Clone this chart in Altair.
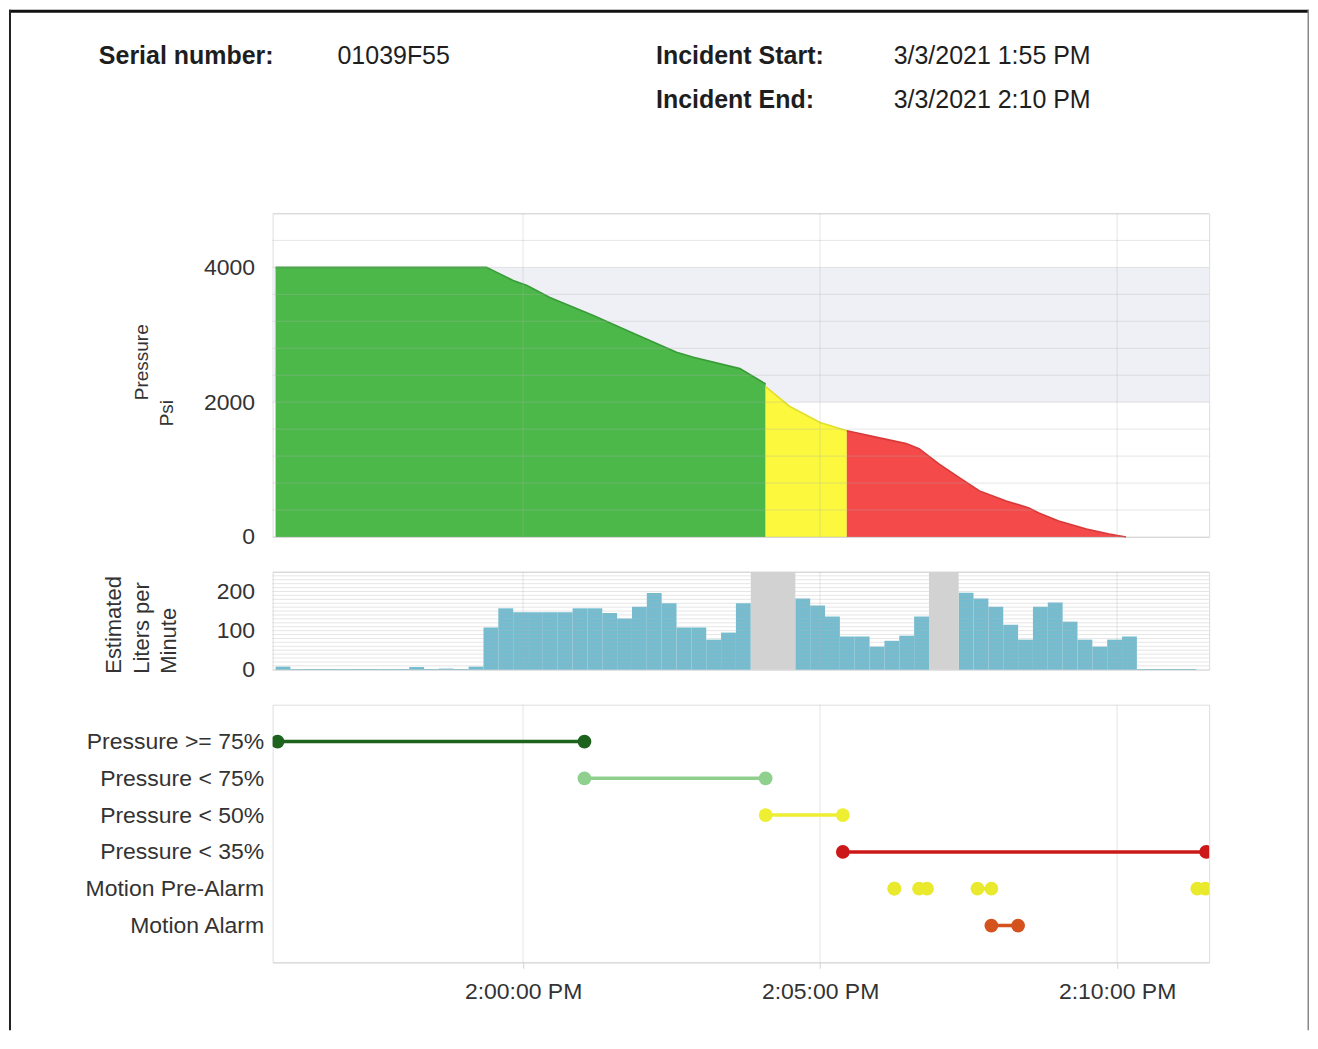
import altair as alt
import pandas as pd

DAY = "2021-03-03T"

# ---------------- header texts ----------------
serial_label = "Serial number:"
serial_value = "01039F55"
start_label = "Incident Start:"
start_value = "3/3/2021 1:55 PM"
end_label = "Incident End:"
end_value = "3/3/2021 2:10 PM"

# ---------------- time axis ----------------
x_start = "13:55:47"
x_end = "14:11:33"
grid_times = ["14:00:00", "14:05:00", "14:10:00"]

# ---------------- cylinder pressure (psi) by zone ----------------
green_time = ["13:55:50", "13:59:23", "13:59:33", "13:59:50", "14:00:04", "14:00:27",
              "14:01:11", "14:01:45", "14:02:35", "14:02:52", "14:03:39", "14:04:05"]
green_psi = [4000, 4000, 3930, 3807, 3732, 3554, 3286, 3063, 2741, 2666, 2498, 2270]
yellow_time = ["14:04:05", "14:04:29", "14:05:00", "14:05:27"]
yellow_psi = [2230, 1940, 1700, 1576]
red_time = ["14:05:27", "14:06:00", "14:06:27", "14:06:40", "14:07:00", "14:07:21", "14:07:41",
            "14:08:08", "14:08:31", "14:08:41", "14:09:01", "14:09:29", "14:09:52", "14:10:09"]
red_psi = [1576, 1470, 1385, 1310, 1085, 877, 684, 535, 431, 357, 238, 119, 45, 0]
zone_names = ["high", "mid", "low"]
zone_colors = ["#4cb84a", "#fbf83e", "#f44a4a"]
zone_edge_colors = ["#3a9c39", "#e2df2c", "#d83a3a"]
band_lo = 2000
band_hi = 4000
psi_max = 4800
psi_labels = [0, 2000, 4000]
psi_grid = list(range(0, 4801, 400))

# ---------------- estimated flow (liters per minute), 15 s bins ----------------
flow_first_bin = "13:55:50"
flow_bin_seconds = 15
flow_lpm = [8, 2, 2, 2, 2, 2, 2, 2, 2, 7, 2, 3, 2, 8,
            108, 157, 147, 147, 147, 147, 157, 157, 145, 131, 161, 196, 170, 108, 108, 77, 95, 170,
            None, None, None,
            182, 164, 136, 85, 85, 59, 74, 87, 136,
            None, None,
            197, 182, 161, 115, 77, 161, 172, 123, 77, 59, 77, 85,
            2, 2, 2, 2]
gap_start = ["14:03:50", "14:06:50"]
gap_end = ["14:04:35", "14:07:20"]
flow_max = 250
flow_labels = [0, 100, 200]
flow_grid = list(range(0, 251, 10))

# ---------------- events ----------------
event_rows = ["Pressure >= 75%", "Pressure < 75%", "Pressure < 50%", "Pressure < 35%",
              "Motion Pre-Alarm", "Motion Alarm"]
event_row_colors = ["#1d621d", "#8fd08f", "#eeee33", "#cc1818", "#e9e92e", "#d4521e"]
event_name = ["Pressure >= 75%", "Pressure < 75%", "Pressure < 50%", "Pressure < 35%",
              "Motion Pre-Alarm", "Motion Pre-Alarm", "Motion Pre-Alarm", "Motion Pre-Alarm",
              "Motion Alarm"]
event_start = ["13:55:52", "14:01:02", "14:04:05", "14:05:23",
               "14:06:15", "14:06:40", "14:07:39", "14:11:21", "14:07:53"]
event_end = ["14:01:02", "14:04:05", "14:05:23", "14:11:30",
             "14:06:15", "14:06:48", "14:07:53", "14:11:29", "14:08:20"]


def ts(hms):
    return DAY + hms


def dt(hms):
    h, m, s = [int(v) for v in hms.split(":")]
    return alt.DateTime(year=2021, month=3, date=3, hours=h, minutes=m, seconds=s)


FONT = "Liberation Sans"
GRID = "#b0b0b0"
GRID_OP = 0.32
W = 938
one = pd.DataFrame({"k": [0]})

# ---------------- data frames ----------------
press_df = pd.concat([
    pd.DataFrame({"t": [ts(v) for v in green_time], "psi": green_psi, "zone": "high"}),
    pd.DataFrame({"t": [ts(v) for v in yellow_time], "psi": yellow_psi, "zone": "mid"}),
    pd.DataFrame({"t": [ts(v) for v in red_time], "psi": red_psi, "zone": "low"}),
], ignore_index=True)

t0 = pd.Timestamp(ts(flow_first_bin))
flow_rows = []
for i, v in enumerate(flow_lpm):
    if v is None:
        continue
    a = t0 + pd.Timedelta(seconds=flow_bin_seconds * i)
    b = a + pd.Timedelta(seconds=flow_bin_seconds)
    flow_rows.append({"t0": a.strftime("%Y-%m-%dT%H:%M:%S"),
                      "t1": b.strftime("%Y-%m-%dT%H:%M:%S"), "lpm": v})
flow_df = pd.DataFrame(flow_rows)
gap_df = pd.DataFrame({"t0": [ts(v) for v in gap_start], "t1": [ts(v) for v in gap_end]})
vgrid_df = pd.DataFrame({"t": [ts(v) for v in grid_times]})

ev_df = pd.DataFrame({"event": event_name,
                      "start": [ts(v) for v in event_start],
                      "end": [ts(v) for v in event_end]})
ev_pts = pd.concat([
    pd.DataFrame({"event": event_name, "t": [ts(v) for v in event_start]}),
    pd.DataFrame({"event": event_name, "t": [ts(v) for v in event_end]}),
], ignore_index=True)

xscale = alt.Scale(domain=[dt(x_start), dt(x_end)])


def vgrid(axis=None):
    if axis is None:
        xx = alt.X("t:T", scale=xscale, axis=None)
    else:
        xx = alt.X("t:T", scale=xscale, title=None, axis=axis)
    return alt.Chart(vgrid_df).mark_rule(color=GRID, opacity=GRID_OP, strokeWidth=1).encode(x=xx)


def hgrid(values, yscale, axis):
    df = pd.DataFrame({"v": values})
    return alt.Chart(df).mark_rule(color=GRID, opacity=GRID_OP, strokeWidth=1).encode(
        y=alt.Y("v:Q", scale=yscale, title=None, axis=axis))


def txt(text, x, y, size, weight="normal", align="left", angle=0, color="#1e1e1e"):
    return alt.Chart(one).mark_text(
        text=text, font=FONT, fontSize=size, fontWeight=weight, align=align,
        baseline="middle", angle=angle, color=color
    ).encode(x=alt.value(x), y=alt.value(y))


def block(x, x2, y, y2, color):
    return alt.Chart(one).mark_rect(color=color).encode(
        x=alt.value(x), x2=alt.value(x2), y=alt.value(y), y2=alt.value(y2))


# ---------------- pressure panel ----------------
psi_scale = alt.Scale(domain=[0, psi_max], nice=False)
psi_axis = alt.Axis(title=None, values=psi_labels, format="d", ticks=False,
                    domain=False, grid=False, labelPadding=18, labelFontSize=23,
                    labelFont=FONT, labelColor="#333")
band = alt.Chart(one).mark_rect(color="#eef0f5").encode(
    x=alt.value(0), x2=alt.value(W),
    y=alt.datum(band_lo), y2=alt.datum(band_hi))

area = alt.Chart(press_df).mark_area(opacity=1).encode(
    x=alt.X("t:T", scale=xscale, axis=None),
    y=alt.Y("psi:Q", stack=None, scale=psi_scale, title=None, axis=psi_axis),
    color=alt.Color("zone:N", scale=alt.Scale(domain=zone_names, range=zone_colors), legend=None),
)

edges = [
    alt.Chart(press_df).transform_filter(alt.datum.zone == z).mark_line(
        color=c, strokeWidth=1.6).encode(
        x=alt.X("t:T", scale=xscale, axis=None),
        y=alt.Y("psi:Q", scale=psi_scale, title=None, axis=psi_axis))
    for z, c in zip(zone_names, zone_edge_colors)
]

header = [
    txt(serial_label, -174, -158, 25, "bold"),
    txt(serial_value, 65, -158, 25),
    txt(start_label, 384, -158, 25, "bold"),
    txt(start_value, 622, -158, 25),
    txt(end_label, 384, -114, 25, "bold"),
    txt(end_value, 622, -114, 25),
    txt("Pressure", -131, 149, 19, align="center", angle=270, color="#333"),
    txt("Psi", -106, 200, 19, align="center", angle=270, color="#333"),
]
frame = [
    block(-264, 1038, -204, -201, "#111"),
    block(-264, -262, -204, 818, "#222"),
    block(1036.5, 1038, -204, 818, "#888"),
]

pressure = alt.layer(band, area, *edges, hgrid(psi_grid, psi_scale, psi_axis), vgrid(),
                     *header, *frame).properties(width=W, height=324)

# ---------------- flow panel ----------------
flow_scale = alt.Scale(domain=[0, flow_max], nice=False)
flow_axis = alt.Axis(title=None, values=flow_labels, ticks=False, domain=False, grid=False,
                     labelPadding=18, labelFontSize=23, labelFont=FONT, labelColor="#333")
bars = alt.Chart(flow_df).mark_rect(color="#74bdd1").encode(
    x=alt.X("t0:T", scale=xscale, axis=None),
    x2="t1:T",
    y=alt.Y("lpm:Q", scale=flow_scale, title=None, axis=flow_axis),
    y2=alt.datum(0),
)
gaps = alt.Chart(gap_df).mark_rect(color="#d2d2d2").encode(
    x=alt.X("t0:T", scale=xscale, axis=None), x2="t1:T",
    y=alt.datum(0), y2=alt.datum(flow_max))
flow_titles = [
    txt("Estimated", -159, 102, 22, align="left", angle=270, color="#333"),
    txt("Liters per", -131, 102, 22, align="left", angle=270, color="#333"),
    txt("Minute", -104, 102, 22, align="left", angle=270, color="#333"),
]
flow = alt.layer(bars, hgrid(flow_grid, flow_scale, flow_axis), vgrid(), gaps,
                 *flow_titles).properties(width=W, height=98)

# ---------------- events panel ----------------
x_events = alt.Axis(
    title=None, values=[dt(v) for v in grid_times], format="%-I:%M:%S %p",
    labelOverlap=False, labelFlush=False, labelFontSize=23, labelPadding=12,
    labelFont=FONT, labelColor="#333", grid=False,
    tickSize=6, tickColor="#d4d4d4", domainColor="#d4d4d4",
)
y_events = alt.Y("event:N", scale=alt.Scale(type="point", domain=event_rows, padding=1),
                 axis=alt.Axis(title=None, ticks=False, domain=False, grid=False,
                               labelPadding=9, labelFontSize=23, labelFont=FONT,
                               labelColor="#333"))
ev_color = alt.Color("event:N", scale=alt.Scale(domain=event_rows, range=event_row_colors), legend=None)

ev_lines = alt.Chart(ev_df).mark_rule(strokeWidth=3.5, clip=True).encode(
    x=alt.X("start:T", scale=xscale, title=None, axis=x_events), x2="end:T", y=y_events, color=ev_color)
ev_dots = alt.Chart(ev_pts).mark_circle(size=190, opacity=1, clip=True).encode(
    x=alt.X("t:T", scale=xscale, title=None, axis=x_events), y=y_events, color=ev_color)
events = alt.layer(vgrid(x_events), ev_lines, ev_dots).properties(width=W, height=258)

chart = alt.vconcat(pressure, flow, events, spacing=35, bounds="flush").resolve_scale(
    color="independent"
).properties(padding=0).configure_view(stroke="#dedede")

chart.save("out.html", embed_options={"renderer": "svg", "actions": False})
